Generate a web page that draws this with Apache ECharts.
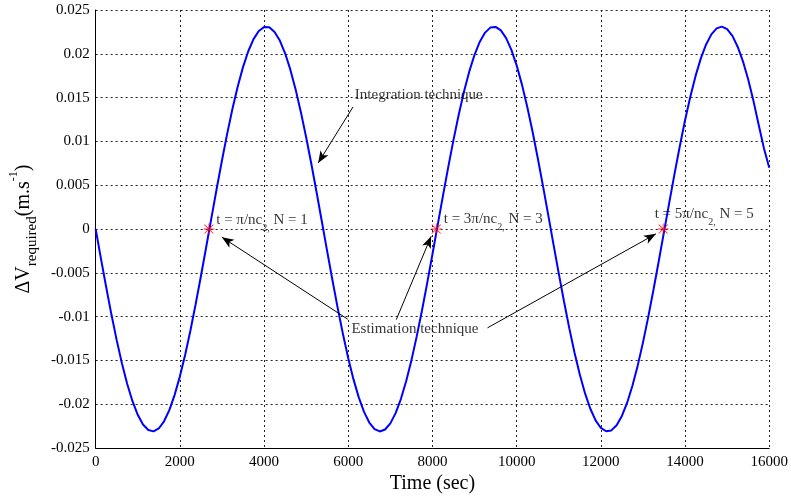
<!DOCTYPE html>
<html>
<head>
<meta charset="utf-8">
<script src="https://cdn.jsdelivr.net/npm/echarts@6/dist/echarts.min.js"></script>
<style>
  html, body { margin: 0; padding: 0; background: #fff; }
  #chart { width: 791px; height: 499px; }
</style>
</head>
<body>
<div id="chart"></div>
<script>
// Required velocity change over time (integration technique), sampled every 125 s
const timeSec = [
  0, 125, 250, 375, 500, 625, 750, 875, 1000, 1125, 1250, 1375, 1500, 1625, 1750, 1875,
  2000, 2125, 2250, 2375, 2500, 2625, 2750, 2875, 3000, 3125, 3250, 3375, 3500, 3625, 3750, 3875,
  4000, 4125, 4250, 4375, 4500, 4625, 4750, 4875, 5000, 5125, 5250, 5375, 5500, 5625, 5750, 5875,
  6000, 6125, 6250, 6375, 6500, 6625, 6750, 6875, 7000, 7125, 7250, 7375, 7500, 7625, 7750, 7875,
  8000, 8125, 8250, 8375, 8500, 8625, 8750, 8875, 9000, 9125, 9250, 9375, 9500, 9625, 9750, 9875,
  10000, 10125, 10250, 10375, 10500, 10625, 10750, 10875, 11000, 11125, 11250, 11375, 11500, 11625, 11750, 11875,
  12000, 12125, 12250, 12375, 12500, 12625, 12750, 12875, 13000, 13125, 13250, 13375, 13500, 13625, 13750, 13875,
  14000, 14125, 14250, 14375, 14500, 14625, 14750, 14875, 15000, 15125, 15250, 15375, 15500, 15625, 15750, 15875,
  16000
];
const dvRequired = [
  0, -0.00334, -0.00662, -0.00976, -0.01268, -0.01535, -0.01768, -0.01965,
  -0.02120, -0.02231, -0.02294, -0.02309, -0.02276, -0.02194, -0.02067, -0.01895,
  -0.01684, -0.01437, -0.01160, -0.00858, -0.00539, -0.00208, 0.00127, 0.00460,
  0.00783, 0.01089, 0.01373, 0.01627, 0.01848, 0.02029, 0.02168, 0.02260,
  0.02305, 0.02302, 0.02250, 0.02151, 0.02006, 0.01819, 0.01594, 0.01334,
  0.01048, 0.00739, 0.00414, 0.00081, -0.00255, -0.00584, -0.00902, -0.01201,
  -0.01474, -0.01716, -0.01921, -0.02087, -0.02208, -0.02283, -0.02310, -0.02288,
  -0.02218, -0.02101, -0.01940, -0.01738, -0.01499, -0.01228, -0.00933, -0.00617,
  -0.00288, 0.00047, 0.00381, 0.00707, 0.01018, 0.01307, 0.01569, 0.01799,
  0.01989, 0.02139, 0.02242, 0.02299, 0.02307, 0.02267, 0.02179, 0.02045,
  0.01868, 0.01651, 0.01399, 0.01119, 0.00814, 0.00492, 0.00161, -0.00175,
  -0.00506, -0.00827, -0.01131, -0.01411, -0.01661, -0.01876, -0.02051, -0.02183,
  -0.02270, -0.02308, -0.02298, -0.02239, -0.02133, -0.01982, -0.01789, -0.01559,
  -0.01296, -0.01005, -0.00693, -0.00367, -0.00033, 0.00302, 0.00630, 0.00945,
  0.01241, 0.01510, 0.01748, 0.01948, 0.02107, 0.02222, 0.02290, 0.02310,
  0.02281, 0.02204, 0.02081, 0.01914, 0.01706, 0.01463, 0.01188, 0.00920,
  0.00700
];

// Estimation technique points (t = nπ/nc2)
const estTime = [2690, 8090, 13480];
const estDv = [0, 0, 0];
const estLabels = [
  '{b|t = π/nc}{s|2,}{b| N = 1}',
  '{b|t = 3π/nc}{s|2,}{b| N = 3}',
  '{b|t = 5π/nc}{s|2,}{b| N = 5}'
];
const estLabelPos = [[2864, 0.0010], [8268, 0.0011], [13278, 0.0017]];

// Callout texts and their arrows ([tail, head] in data units)
const calloutTexts = ['Integration technique', 'Estimation technique'];
const calloutPos = [[6157, 0.01525], [6076, -0.01146]];
const arrows = [
  [[6114, 0.01394], [5285, 0.00754]],
  [[5988, -0.01029], [2999, -0.00093]],
  [[7141, -0.01033], [7969, -0.00082]],
  [[9309, -0.01127], [13309, -0.00055]]
];

const FONT = '"Liberation Serif", "Times New Roman", serif';

// Asterisk-shaped marker
const ASTERISK = 'path://M9.2 0H10.8V20H9.2Z M0 9.2H20V10.8H0Z M2.5 1.3L18.7 17.5L17.5 18.7L1.3 2.5Z M17.5 1.3L18.7 2.5L2.5 18.7L1.3 17.5Z';

const chart = echarts.init(document.getElementById('chart'), null, { renderer: 'canvas' });

const gridLine = { show: true, lineStyle: { color: '#222', width: 1, type: [2, 3] } };

chart.setOption({
  animation: false,
  backgroundColor: '#fff',
  grid: { left: 95, right: 20, top: 10, bottom: 46, containLabel: false },
  xAxis: {
    type: 'value',
    min: 0, max: 16000, interval: 2000,
    name: 'Time (sec)',
    nameLocation: 'middle',
    nameGap: 22,
    nameTextStyle: { fontFamily: FONT, fontSize: 20, color: '#000' },
    axisLine: { show: true, onZero: false, lineStyle: { color: '#000', width: 1 } },
    axisTick: { show: false },
    axisLabel: { fontFamily: FONT, fontSize: 15, color: '#000', margin: 6, formatter: v => String(v) },
    splitLine: gridLine
  },
  yAxis: {
    type: 'value',
    min: -0.025, max: 0.025, interval: 0.005,
    name: '{big|ΔV}{sub|required}{big|(m.s}{sup|-1}{big|)}',
    nameLocation: 'middle',
    nameGap: 54,
    nameTextStyle: {
      fontFamily: FONT, color: '#000',
      rich: {
        big: { fontFamily: FONT, fontSize: 20, lineHeight: 32, color: '#000' },
        sub: { fontFamily: FONT, fontSize: 15, lineHeight: 14, verticalAlign: 'bottom', color: '#000' },
        sup: { fontFamily: FONT, fontSize: 12, lineHeight: 22, verticalAlign: 'top', color: '#000' }
      }
    },
    axisLine: { show: true, onZero: false, lineStyle: { color: '#000', width: 1 } },
    axisTick: { show: false },
    axisLabel: {
      fontFamily: FONT, fontSize: 15, color: '#000', margin: 6,
      formatter: v => {
        const r = Math.round(v * 1000) / 1000;
        return r === 0 ? '0' : String(r);
      }
    },
    splitLine: gridLine
  },
  series: [
    {
      name: 'Integration technique',
      type: 'line',
      data: timeSec.map((t, i) => [t, dvRequired[i]]),
      showSymbol: false,
      smooth: false,
      lineStyle: { color: '#0000ff', width: 2 },
      silent: true,
      z: 3,
      markLine: {
        silent: true,
        symbol: ['none', 'arrow'],
        symbolSize: [7, 12],
        label: { show: false },
        lineStyle: { color: '#000', width: 1, type: 'solid' },
        data: arrows.map(a => [{ coord: a[0] }, { coord: a[1] }])
      }
    },
    {
      name: 'Estimation technique',
      type: 'scatter',
      data: estTime.map((t, i) => [t, estDv[i]]),
      symbol: ASTERISK,
      symbolSize: 11,
      itemStyle: { color: '#ff0000' },
      silent: true,
      z: 5
    },
    {
      name: 'point labels',
      type: 'scatter',
      data: estLabelPos.map((p, i) => ({ value: p, label: { formatter: estLabels[i] } })),
      symbolSize: 0,
      silent: true,
      z: 6,
      label: {
        show: true, position: 'right', distance: 0,
        rich: {
          b: { fontFamily: FONT, fontSize: 15, lineHeight: 26, color: '#000' },
          s: { fontFamily: FONT, fontSize: 10, lineHeight: 10, verticalAlign: 'bottom', color: '#000' }
        }
      }
    },
    {
      name: 'callouts',
      type: 'scatter',
      data: calloutPos.map((p, i) => ({ value: p, label: { formatter: calloutTexts[i] } })),
      symbolSize: 0,
      silent: true,
      z: 6,
      label: {
        show: true, position: 'right', distance: 0,
        fontFamily: FONT, fontSize: 15, color: '#000'
      }
    }
  ]
});
</script>
</body>
</html>
